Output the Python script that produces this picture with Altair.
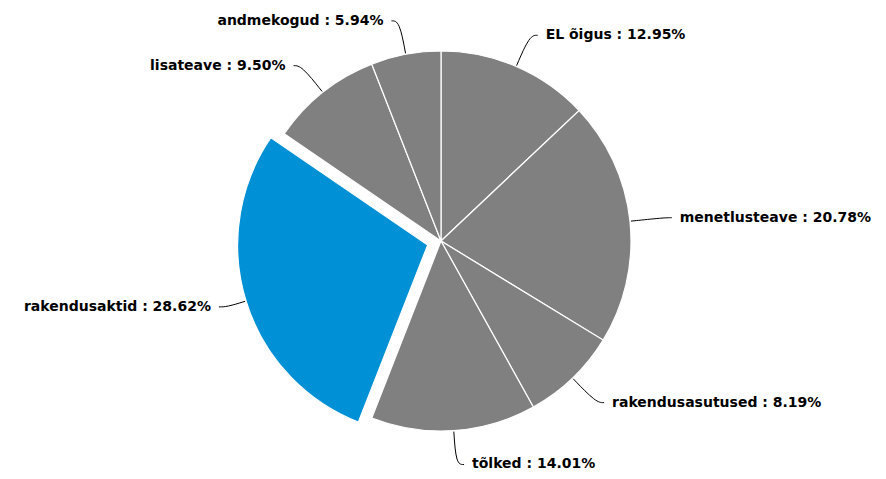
import math
import numpy as np
import pandas as pd
import altair as alt

# ---- data ----
categories = ["EL õigus", "menetlusteave", "rakendusasutused", "tõlked",
              "rakendusaktid", "lisateave", "andmekogud"]
shares = [12.95, 20.78, 8.19, 14.01, 28.62, 9.50, 5.94]
highlighted = ["rakendusaktid"]

# ---- layout (pixels inside the plot area) ----
W, H = 870, 463
CX, CY = 433, 233
R = 190
EXPLODE = 14
LABEL_R = 224
HOOK = 8
GAP = 8
GREY = "#808080"
BLUE = "#0090d5"
FONT = "DejaVu Sans"

vals = np.array(shares, dtype=float)
total = vals.sum()
end = np.cumsum(vals) / total * 100
start = end - vals / total * 100
mid = (start + end) / 2
ang = mid / 100 * 2 * math.pi
isx = np.array([c in highlighted for c in categories])
off = np.where(isx, EXPLODE, 0)
cx = CX + off * np.sin(ang)
cy = CY - off * np.cos(ang)
side = np.where(np.sin(ang) >= 0, 1, -1)

slices = pd.DataFrame({
    "cat": categories, "share": shares, "start": start, "end": end,
    "cx": cx, "cy": cy,
    "color": np.where(isx, BLUE, GREY),
})

# connector points
rows = []
labels = []
for i, c in enumerate(categories):
    sx, sy = math.sin(ang[i]), -math.cos(ang[i])
    p0 = (cx[i] + (R + 1) * sx, cy[i] + (R + 1) * sy)
    p1 = (CX + LABEL_R * sx, CY + LABEL_R * sy)
    p2 = (p1[0] + side[i] * HOOK, p1[1])
    for k, p in enumerate([p0, p1, p2]):
        rows.append({"cat": c, "k": k, "px": p[0], "py": p[1]})
    labels.append({"cat": c, "tx": p2[0] + side[i] * GAP, "ty": p2[1],
                   "side": int(side[i]),
                   "text": f"{c} : {shares[i]:.2f}%"})
conn = pd.DataFrame(rows)
lab = pd.DataFrame(labels)

theta_scale = alt.Scale(domain=[0, 100], range=[0, 2 * math.pi])

arcs = alt.Chart(slices).mark_arc(radius=R, stroke="white", strokeWidth=1.2).encode(
    theta=alt.Theta("start:Q", scale=theta_scale),
    theta2="end:Q",
    x=alt.X("cx:Q", scale=None),
    y=alt.Y("cy:Q", scale=None),
    color=alt.Color("color:N", scale=None),
)

lines = alt.Chart(conn).mark_line(color="black", strokeWidth=1, interpolate="basis").encode(
    x=alt.X("px:Q", scale=None),
    y=alt.Y("py:Q", scale=None),
    detail="cat:N",
    order="k:Q",
)

text_style = dict(baseline="middle", font=FONT, fontSize=14, fontWeight="bold",
                  color="black")

text_r = alt.Chart(lab).transform_filter("datum.side > 0").mark_text(
    align="left", **text_style
).encode(x=alt.X("tx:Q", scale=None), y=alt.Y("ty:Q", scale=None), text="text:N")

text_l = alt.Chart(lab).transform_filter("datum.side < 0").mark_text(
    align="right", **text_style
).encode(x=alt.X("tx:Q", scale=None), y=alt.Y("ty:Q", scale=None), text="text:N")

chart = alt.layer(arcs, lines, text_r, text_l).properties(
    width=W, height=H, padding=0, autosize=alt.AutoSizeParams(type="none")
).configure_view(strokeWidth=0)

chart.save("out.html", embed_options={"renderer": "svg", "actions": False})
